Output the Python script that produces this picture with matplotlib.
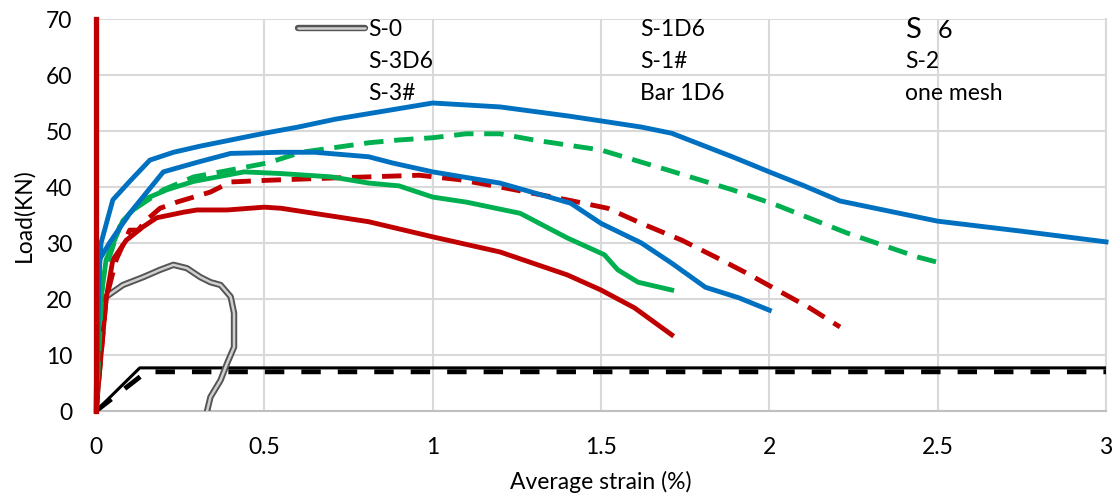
import matplotlib
matplotlib.use("Agg")
import matplotlib.pyplot as plt

plt.rcParams["font.family"] = ["Lato", "DejaVu Sans"]

# strain (%) and load (kN)
blue_top_x = [0, 0.005, 0.015, 0.05, 0.1, 0.16, 0.23, 0.31, 0.5, 0.6, 0.71, 1.0, 1.2, 1.4, 1.5,
              1.62, 1.71, 1.89, 2.0, 2.1, 2.21, 2.5, 2.75, 3.0]
blue_top_y = [0, 20, 30, 37.7, 41, 44.8, 46.2, 47.3, 49.6, 50.7, 52.1, 55, 54.3, 52.7, 51.8,
              50.7, 49.6, 45.4, 42.7, 40.3, 37.5, 33.9, 32.1, 30.2]

blue_low_x = [0, 0.01, 0.04, 0.1, 0.2, 0.3, 0.4, 0.55, 0.65, 0.81, 0.88, 1.0, 1.2, 1.41,
              1.5, 1.62, 1.71, 1.81, 1.91, 2.0]
blue_low_y = [0, 27, 30, 35.3, 42.7, 44.4, 46, 46.2, 46.2, 45.4, 44.3, 42.7, 40.7, 37.1,
              33.5, 30, 26.4, 22.1, 20.2, 18]

green_solid_x = [0, 0.01, 0.03, 0.08, 0.14, 0.21, 0.29, 0.44, 0.55, 0.7, 0.81, 0.9, 1.0, 1.1,
                 1.26, 1.4, 1.51, 1.55, 1.61, 1.71]
green_solid_y = [0, 18, 27, 34, 37.7, 39.5, 41, 42.7, 42.4, 41.8, 40.7, 40.2, 38.2, 37.3,
                 35.3, 30.9, 27.9, 25.2, 23, 21.6]

green_dash_x = [0, 0.02, 0.07, 0.11, 0.2, 0.29, 0.37, 0.51, 0.61, 0.81, 0.9, 1.0, 1.1, 1.2,
                1.3, 1.5, 1.7, 1.89, 2.02, 2.23, 2.44, 2.51]
green_dash_y = [0, 24, 32.9, 35.9, 39.5, 41.8, 42.7, 44.3, 46.2, 47.9, 48.4, 48.8, 49.5, 49.5,
                48.4, 46.6, 43, 39.5, 36.8, 31.8, 27.5, 26.4]

red_dash_x = [0, 0.03, 0.06, 0.1, 0.125, 0.15, 0.19, 0.24, 0.34, 0.4, 0.51, 0.7, 0.96, 1.08,
              1.2, 1.4, 1.52, 1.62, 1.74, 1.84, 1.93, 2.12, 2.21]
red_dash_y = [0, 20, 27, 32.3, 32.3, 34.1, 36.2, 37.3, 39.1, 40.9, 41.2, 41.6, 42.1, 41.3,
              40, 37.7, 36.2, 33.5, 30.5, 27.5, 24.7, 18.4, 15]

red_solid_x = [0, 0.03, 0.05, 0.09, 0.14, 0.18, 0.26, 0.3, 0.39, 0.5, 0.55, 0.81, 1.0, 1.2,
               1.4, 1.5, 1.6, 1.71]
red_solid_y = [0, 20, 27, 30.5, 32.9, 34.5, 35.5, 35.9, 35.9, 36.4, 36.2, 33.8, 31.1, 28.4,
               24.3, 21.6, 18.4, 13.6]

red_vert_x = [0, 0]
red_vert_y = [0, 70]

s0_x = [0, 0.01, 0.02, 0.03, 0.08, 0.14, 0.19, 0.23, 0.27, 0.31, 0.34, 0.37, 0.40, 0.41,
        0.41, 0.41, 0.39, 0.37, 0.34, 0.33]
s0_y = [0, 12, 18, 20.4, 22.5, 23.9, 25.2, 26.1, 25.5, 23.9, 23, 22.5, 20.4, 17.5,
        14.5, 11.4, 8.6, 5.5, 2.5, 0]

bar_x = [0, 0.13, 3.0]
bar_y = [0, 7.7, 7.7]
mesh_x = [0, 0.15, 3.0]
mesh_y = [0, 7.0, 7.0]

legend_cols = [["S-0", "S-3D6", "S-3#"], ["S-1D6", "S-1#", "Bar 1D6"], ["S6", "S-2", "one mesh"]]

BLUE = "#0070c0"
GREEN = "#00b050"
RED = "#c00000"
FS = 16.5

fig = plt.figure(figsize=(11.2, 5.01), dpi=100)
ax = fig.add_axes([96 / 1120, 90 / 501, 1010 / 1120, 392 / 501])

lw = 3.5
ax.plot(mesh_x, mesh_y, color="black", lw=3.5, dashes=(4, 3.5), zorder=3)
ax.plot(bar_x, bar_y, color="black", lw=2.2, zorder=3)
ax.plot(s0_x, s0_y, color="#555555", lw=4.6, zorder=3, solid_joinstyle="round")
ax.plot(s0_x, s0_y, color="#d0d0d0", lw=1.8, zorder=3, solid_joinstyle="round")
ax.plot(red_solid_x, red_solid_y, color=RED, lw=lw, zorder=4)
ax.plot(red_dash_x, red_dash_y, color=RED, lw=lw, dashes=(4, 2.2), zorder=4)
ax.plot(green_solid_x, green_solid_y, color=GREEN, lw=lw, zorder=4)
ax.plot(green_dash_x, green_dash_y, color=GREEN, lw=lw, dashes=(4, 2.2), zorder=4)
ax.plot(blue_low_x, blue_low_y, color=BLUE, lw=lw, zorder=5)
ax.plot(blue_top_x, blue_top_y, color=BLUE, lw=lw, zorder=5, clip_on=False)
ax.plot(red_vert_x, red_vert_y, color=RED, lw=3.8, zorder=6, clip_on=False)

ax.set_xlim(0, 3)
ax.set_ylim(0, 70)
ax.set_xticks([0, 0.5, 1, 1.5, 2, 2.5, 3])
ax.set_xticklabels(["0", "0.5", "1", "1.5", "2", "2.5", "3"])
ax.set_yticks(range(0, 71, 10))
ax.grid(True, color="#d9d9d9", lw=1.5)
ax.set_axisbelow(True)
for s in ["top", "right", "left"]:
    ax.spines[s].set_visible(False)
ax.spines["bottom"].set_color("#bfbfbf")
ax.spines["bottom"].set_linewidth(1.5)
ax.axvline(3, color="#d9d9d9", lw=1.5, zorder=0, clip_on=False)
ax.tick_params(length=0, labelsize=FS)
ax.tick_params(axis="x", pad=19)
ax.tick_params(axis="y", pad=17)
ax.set_xlabel("Average strain (%)", fontsize=FS, labelpad=9)
ax.set_ylabel("Load(KN)", fontsize=FS, labelpad=8)

# legend drawn as text grid, like the original figure
col_x = [368, 640, 905]
row_y = [30, 62, 94]
for ci, col in enumerate(legend_cols):
    for ri, lab in enumerate(col):
        xp = col_x[ci] / 1120
        yp = 1 - row_y[ri] / 501
        if lab == "S6":
            fig.text(xp, yp, "S", fontsize=21, va="center", ha="left")
            fig.text(xp + 33 / 1120, yp, "6", fontsize=18, va="center", ha="left")
        else:
            fig.text(xp, yp, lab, fontsize=FS, va="center", ha="left")

hx = [298 / 1120, 365 / 1120]
hy = [1 - 28 / 501, 1 - 28 / 501]
fig.lines.append(plt.Line2D(hx, hy, transform=fig.transFigure, color="#555555", lw=4.6,
                            solid_capstyle="round"))
fig.lines.append(plt.Line2D(hx, hy, transform=fig.transFigure, color="#d0d0d0", lw=1.8,
                            solid_capstyle="round"))

fig.savefig("out.png", dpi=100)
